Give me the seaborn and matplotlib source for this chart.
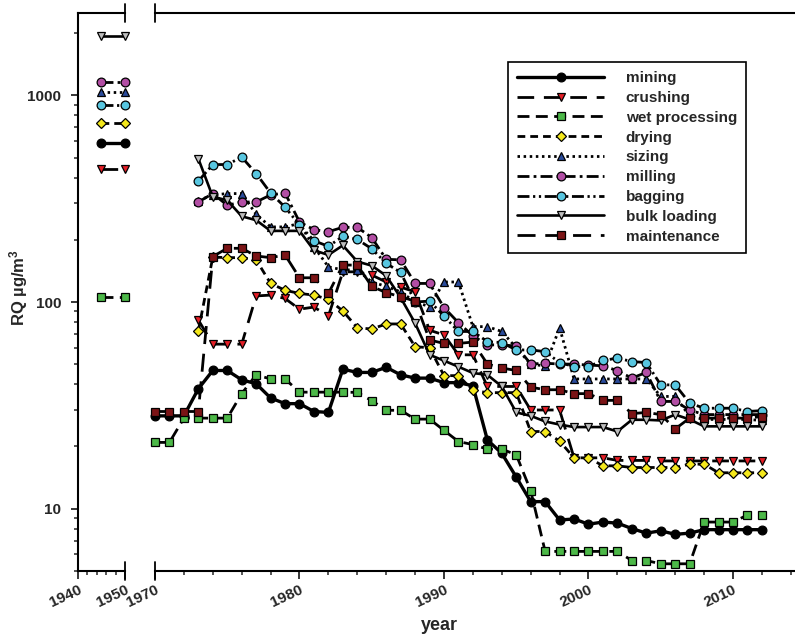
import numpy as np
import pandas as pd
import matplotlib
matplotlib.use("Agg")
import matplotlib.pyplot as plt
import matplotlib.ticker as mticker
from matplotlib.lines import Line2D
import seaborn as sns

# ---------------- data ----------------
series_names = ["mining", "crushing", "wet processing", "drying", "sizing",
                "milling", "bagging", "bulk loading", "maintenance"]

years_70 = list(range(1970, 2013))
years_73 = list(range(1973, 2013))
early_years = [1945, 1950]

mining = [28.1, 28.1, 28.1, 38, 46.6, 46.6, 42, 40.2, 34.3, 32.2, 32.2, 29.5, 29.2,
          47.3, 45.6, 45.6, 48.3, 44.4, 42.8, 42.8, 40.7, 40.7, 39.3, 21.5, 18.5, 14.2,
          10.8, 10.8, 8.8, 8.9, 8.4, 8.6, 8.5, 8.0, 7.6, 7.8, 7.5, 7.6, 7.9, 7.9, 7.9, 7.9, 7.9]
crushing = [81.8, 62.5, 62.5, 62.5, 107, 108, 104, 92.3, 94.5, 85.5, 140, 140, 135, 125,
            118, 112, 73, 69.3, 55.5, 55.5, 39, 39, 39, 30, 30, 30, 17.6, 17.6, 17.6, 17.1,
            17.1, 17.1, 17, 17, 17, 17, 17, 17, 17, 17]
wet_processing = [20.9, 20.9, 27.4, 27.4, 27.4, 27.4, 36, 44.4, 42.4, 42.4, 36.6, 36.6,
                  36.6, 36.6, 36.5, 33.3, 29.9, 29.9, 27.1, 27.1, 23.9, 21.1, 20.4, 19.4,
                  19.4, 18.2, 12.2, 6.2, 6.2, 6.2, 6.2, 6.2, 6.2, 5.6, 5.6, 5.4, 5.4, 5.4,
                  8.6, 8.6, 8.6, 9.3, 9.3]
drying = [72.6, 165, 164, 164, 160, 123, 114, 110, 108, 103, 90.5, 75, 74, 78.3, 78.3,
          60.8, 60, 44, 44, 37.3, 36.4, 36.4, 36.4, 23.6, 23.6, 21.2, 17.6, 17.6, 16.1,
          16.1, 15.8, 15.8, 15.8, 15.8, 16.4, 16.4, 14.9, 14.9, 14.9, 14.9]
sizing = [310, 330, 335, 335, 266, 231, 231, 240, 185, 148, 143, 143, 125, 119, 112, 100,
          95, 125, 125, 76, 76, 72, 60, 50, 49, 75, 42.4, 42.4, 42.4, 42.4, 42.4, 42.4,
          34.9, 34.9, 28, 27, 27, 27, 27, 26.7]
milling = [305, 335, 294, 305, 305, 330, 337, 244, 224, 219, 230, 230, 205, 161, 160, 123,
           123, 94, 79.4, 68.6, 62, 62, 61.2, 50.1, 50.5, 50.1, 50, 49.5, 49.1, 46.5, 42.8,
           45.6, 33, 33, 30, 28.5, 28.5, 28.5, 28.5, 28.5]
bagging = [385, 463, 463, 503, 419, 337, 288, 236, 198, 186, 208, 201, 181, 154, 139, 100,
           101, 85.5, 72, 72, 64.3, 63.6, 58.6, 58.6, 57.5, 50.9, 48.7, 48.7, 52.1, 53.5,
           51.5, 50.9, 39.7, 39.7, 32.4, 30.6, 30.6, 30.6, 29.5, 29.8]
bulk_loading = [494, 323, 311, 260, 249, 221, 221, 221, 178, 169, 188, 157, 150, 134, 105,
                79, 55.5, 52, 48.6, 45.3, 44.4, 39, 29.2, 28.1, 26.4, 25.5, 24.8, 24.8, 24.8,
                23.6, 26.9, 26.9, 26.7, 28.5, 27, 25, 25, 25, 25, 25]
maintenance = [29.5, 29.5, 29.5, 29.5, 166, 182, 182, 167, 164, 169, 131, 131, 110, 151,
               151, 119, 111, 106, 101, 65.5, 63, 63, 64, 50.1, 47.9, 46.6, 38.7, 37.6,
               37.6, 36, 36, 33.4, 33.4, 28.8, 29.2, 28.5, 24.3, 27.4, 27.4, 27.4, 27.4,
               27.4, 27.9]

# 1945 / 1950 values (left panel)
early_mining = [591, 591]
early_crushing = [443, 443]
early_wet = [106, 106]
early_drying = [735, 735]
early_sizing = [1038, 1038]
early_milling = [1160, 1160]
early_bagging = [895, 895]
early_bulk = [1950, 1950]

y_ticks = [10, 100, 1000]
x_ticks_left = [1940, 1950]
x_ticks_right = [1970, 1980, 1990, 2000, 2010]

# ---------------- styles ----------------
styles = {
    "mining":         dict(marker="o", fc="#000000", ls="-", ms=6.3, lw=2.4),
    "crushing":       dict(marker="v", fc="#e41e26", ls=(0, (6, 3.5)), ms=6.3, lw=2.0),
    "wet processing": dict(marker="s", fc="#4cb848", ls=(0, (4.3, 2.3)), ms=5.3, lw=2.0),
    "drying":         dict(marker="D", fc="#f4e81c", ls=(0, (2.8, 1.8)), ms=4.8, lw=2.0),
    "sizing":         dict(marker="^", fc="#2a4b9b", ls=(0, (0.9, 1.3)), ms=6.3, lw=2.0),
    "milling":        dict(marker="o", fc="#b24ea4", ls=(0, (4.3, 1.5, 1, 1.5)), ms=6.3, lw=2.0),
    "bagging":        dict(marker="o", fc="#58c6e0", ls=(0, (4.3, 1.3, 0.8, 1.3, 0.8, 1.3)), ms=6.3, lw=2.0),
    "bulk loading":   dict(marker="v", fc="#bdbdbd", ls="-", ms=6.3, lw=1.9),
    "maintenance":    dict(marker="s", fc="#7b1416", ls=(0, (6.5, 3.5)), ms=5.3, lw=2.0),
}

right_data = {
    "mining": (years_70, mining),
    "crushing": (years_73, crushing),
    "wet processing": (years_70, wet_processing),
    "drying": (years_73, drying),
    "sizing": (years_73, sizing),
    "milling": (years_73, milling),
    "bagging": (years_73, bagging),
    "bulk loading": (years_73, bulk_loading),
    "maintenance": (years_70, maintenance),
}
left_data = {
    "mining": early_mining,
    "crushing": early_crushing,
    "wet processing": early_wet,
    "drying": early_drying,
    "sizing": early_sizing,
    "milling": early_milling,
    "bagging": early_bagging,
    "bulk loading": early_bulk,
}

# ---------------- figure ----------------
sns.set_theme(style="ticks")
plt.rcParams["font.family"] = ["Liberation Sans", "DejaVu Sans"]
plt.rcParams["font.weight"] = "bold"
plt.rcParams["axes.labelweight"] = "bold"
plt.rcParams["mathtext.fontset"] = "custom"
plt.rcParams["mathtext.rm"] = "Liberation Sans:bold"
plt.rcParams["mathtext.bf"] = "Liberation Sans:bold"
plt.rcParams["mathtext.it"] = "Liberation Sans:bold"

W, H = 795, 638
fig = plt.figure(figsize=(W / 100, H / 100), dpi=100)
fig.patch.set_facecolor("white")

y_top, y_bot = 13.3, 570.7
axL = fig.add_axes([77.7 / W, (H - y_bot) / H, (125 - 77.7) / W, (y_bot - y_top) / H])
axR = fig.add_axes([155 / W, (H - y_bot) / H, (W - 155) / W, (y_bot - y_top) / H])

handles = []
for name in series_names:
    st = styles[name]
    yrs, vals = right_data[name]
    df = pd.DataFrame({"year": yrs, "RQ": vals})
    sns.lineplot(data=df, x="year", y="RQ", ax=axR, color="black", linestyle=st["ls"],
                 linewidth=st["lw"], marker=st["marker"], markersize=st["ms"],
                 markerfacecolor=st["fc"], markeredgecolor="black", markeredgewidth=0.9,
                 legend=False, clip_on=False, errorbar=None)
    ln = axR.lines[-1]
    ln.set_label(name)
    handles.append(ln)
    if name in left_data:
        dfl = pd.DataFrame({"year": early_years, "RQ": left_data[name]})
        sns.lineplot(data=dfl, x="year", y="RQ", ax=axL, color="black", linestyle=st["ls"],
                     linewidth=st["lw"], marker=st["marker"], markersize=st["ms"],
                     markerfacecolor=st["fc"], markeredgecolor="black", markeredgewidth=0.9,
                     legend=False, clip_on=False, errorbar=None)

for ax in (axL, axR):
    ax.set_yscale("log")
    ax.set_ylim(5, 2500)
    ax.set_xlabel("")
    ax.set_ylabel("")
    ax.set_facecolor("white")
    for sp in ax.spines.values():
        sp.set_linewidth(1.5)
        sp.set_color("black")
    ax.spines["right"].set_visible(False)
    ax.tick_params(axis="x", which="major", length=5.5, width=1.3, direction="out",
                   labelsize=11, pad=3, top=False)
    ax.tick_params(axis="x", which="minor", length=3, width=1.1, direction="out", top=False)

axL.set_xlim(1940, 1950)
axR.set_xlim(1970, 1970 + (W - 155) / 14.45)

axL.set_xticks(x_ticks_left)
axL.xaxis.set_minor_locator(mticker.MultipleLocator(2))
axR.set_xticks(x_ticks_right)
axR.xaxis.set_minor_locator(mticker.MultipleLocator(2))

axL.set_yticks(y_ticks)
axL.yaxis.set_major_formatter(mticker.FuncFormatter(lambda v, p: "%g" % v))
axL.yaxis.set_minor_locator(mticker.LogLocator(base=10, subs=np.arange(2, 10)))
axL.yaxis.set_minor_formatter(mticker.NullFormatter())
axL.tick_params(axis="y", which="major", length=5, width=1.3, direction="out",
                labelsize=11, pad=7, right=False)
axL.tick_params(axis="y", which="minor", length=3, width=1.1, direction="out", right=False)

axR.spines["left"].set_visible(False)
axR.tick_params(axis="y", which="both", left=False, right=False, labelleft=False)

for ax in (axL, axR):
    for lab in ax.get_xticklabels():
        lab.set_rotation(25)
        lab.set_ha("right")
        lab.set_va("top")
        lab.set_rotation_mode("anchor")
        lab.set_fontweight("bold")
    for lab in ax.get_yticklabels():
        lab.set_fontweight("bold")

# axis break marks
for xb in (125, 155):
    for yb in (y_top, y_bot):
        fig.add_artist(Line2D([xb / W, xb / W], [(H - yb - 9) / H, (H - yb + 9) / H],
                              transform=fig.transFigure, color="black", linewidth=1.3))

# axis titles
fig.text(19 / W, 1 - 288 / H, "RQ µg/m$^{3}$", rotation=90, ha="center", va="center",
         fontsize=12, fontweight="bold")
fig.text(439 / W, 1 - 626 / H, "year", ha="center", va="center", fontsize=13,
         fontweight="bold")

leg = axR.legend(handles=handles, labels=series_names, loc="upper left",
                 bbox_to_anchor=(508 / W, 1 - 62 / H), bbox_transform=fig.transFigure,
                 borderaxespad=0, frameon=True, fancybox=False, framealpha=1,
                 edgecolor="black", fontsize=11, handlelength=5.7, handletextpad=1.4,
                 labelspacing=0.38, borderpad=0.6, numpoints=1)
leg.get_frame().set_linewidth(1.2)
for t in leg.get_texts():
    t.set_fontweight("bold")

fig.savefig("out.png", dpi=100, facecolor="white")
